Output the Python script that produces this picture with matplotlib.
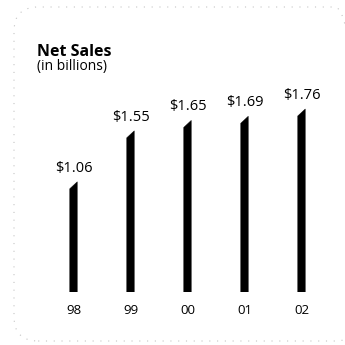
import matplotlib
matplotlib.use("Agg")
import matplotlib.pyplot as plt
from matplotlib.patches import Polygon, FancyBboxPatch

years = ["98", "99", "00", "01", "02"]
sales = [1.06, 1.55, 1.65, 1.69, 1.76]
value_labels = ["$1.06", "$1.55", "$1.65", "$1.69", "$1.76"]
title = "Net Sales"
subtitle = "(in billions)"

plt.rcParams['font.family'] = ['Open Sans', 'DejaVu Sans']

W = H = 345
fig = plt.figure(figsize=(W / 100, H / 100), dpi=100)

# rounded faint frame (scanned border, right edge off-canvas)
frame = FancyBboxPatch((14 / W, 4 / H), 345 / W, 334 / H,
                       boxstyle="round,pad=0,rounding_size=0.07",
                       transform=fig.transFigure, fill=False,
                       edgecolor="#c4c4c4", linewidth=0.8,
                       linestyle=(0, (1, 6)))
fig.patches.append(frame)

base_px = 292
ax = fig.add_axes([0, 1 - base_px / H, 1, base_px / H])
px_per_unit = 104
ax.set_ylim(0, base_px / px_per_unit)
spacing = 57
first = 73.5
ax.set_xlim(-first / spacing, (W - first) / spacing)

xs = list(range(len(years)))
bw = 7.5 / spacing
slant = 7 / px_per_unit
for x, v, lab in zip(xs, sales, value_labels):
    poly = Polygon([(x - bw / 2, 0), (x + bw / 2, 0), (x + bw / 2, v),
                    (x - bw / 2, v - slant)], closed=True,
                   facecolor="black", edgecolor="black", linewidth=0.3)
    ax.add_patch(poly)
    ax.annotate(lab, (x, v), xytext=(0.5, 4.5),
                textcoords="offset points", ha="center", va="bottom",
                fontsize=10.5, color="black")

ax.set_xticks(xs)
ax.set_xticklabels(years, fontsize=9.5)
ax.tick_params(axis="x", length=0, pad=9)
ax.set_yticks([])
for s in ax.spines.values():
    s.set_visible(False)
ax.patch.set_alpha(0)

fig.text(37 / W, 1 - 56 / H, title, fontsize=11.5, fontweight="bold",
         ha="left", va="baseline")
fig.text(37 / W, 1 - 70 / H, subtitle, fontsize=10,
         ha="left", va="baseline")

fig.savefig("out.png", dpi=100)
